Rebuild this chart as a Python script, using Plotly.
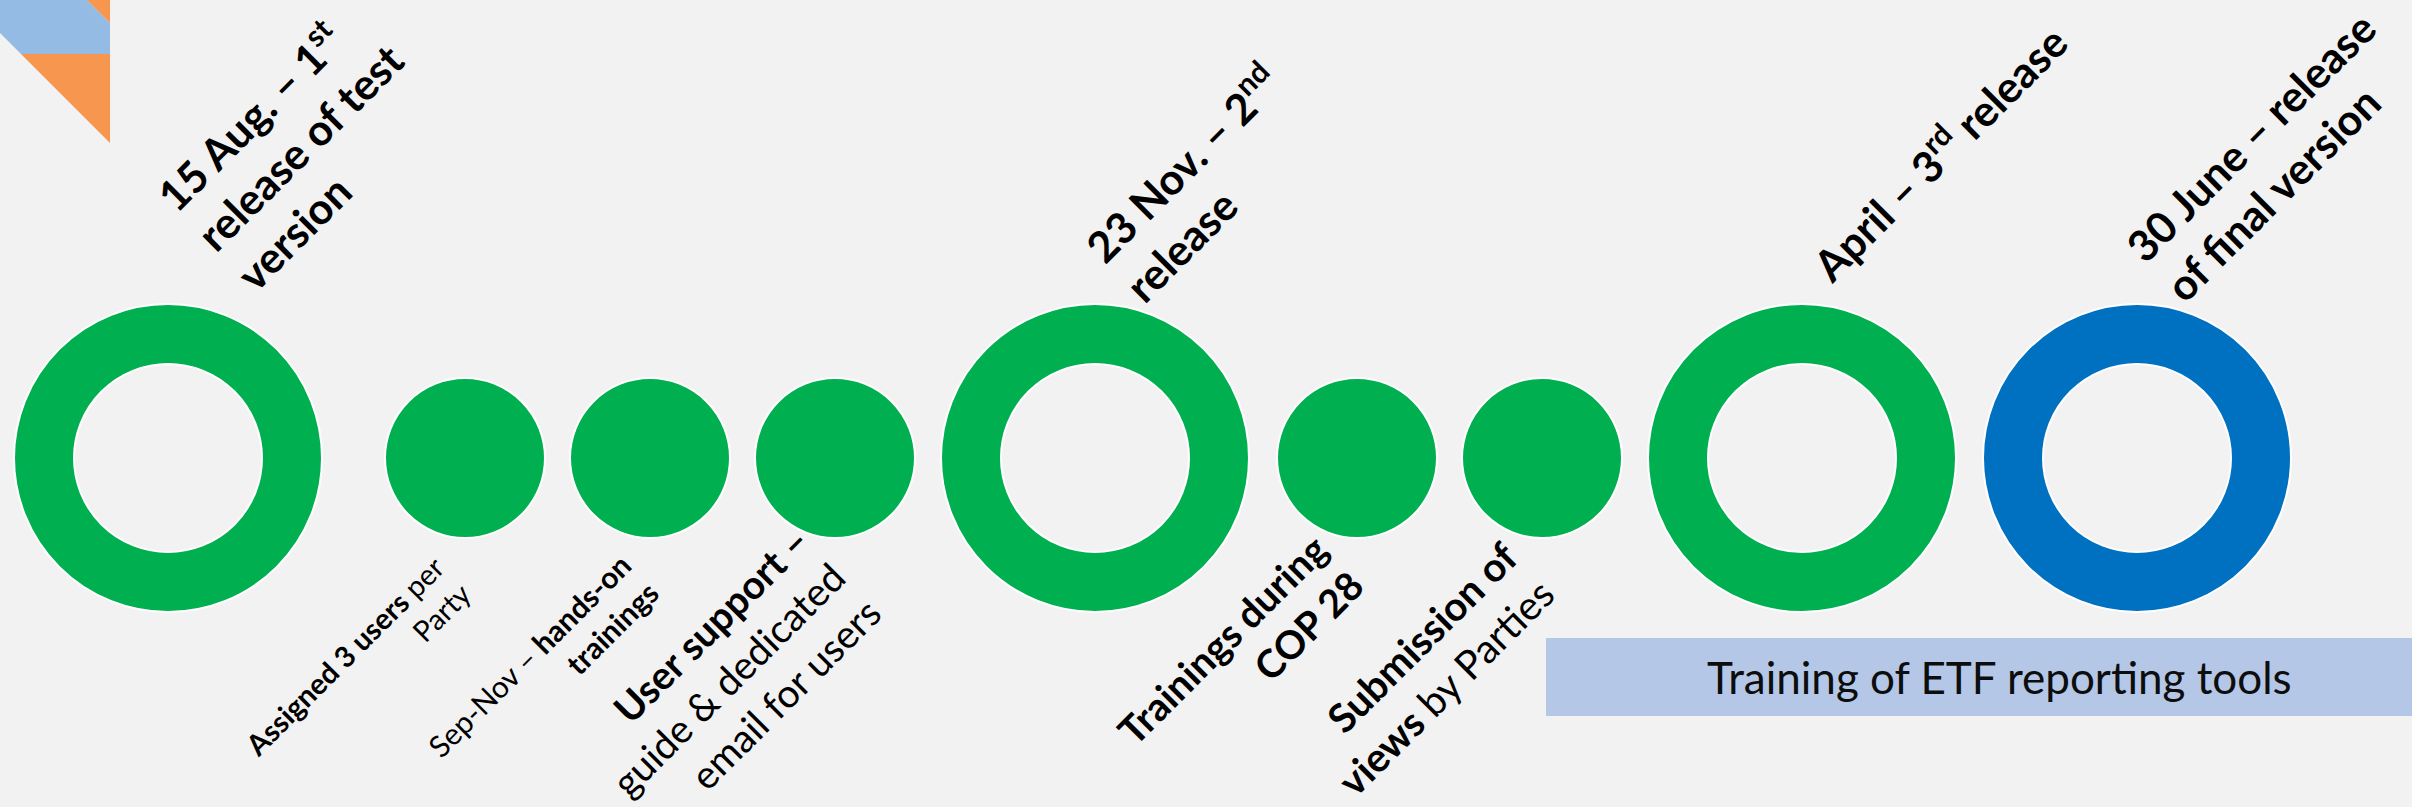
import plotly.graph_objects as go

# ---------------- data ----------------
milestones = ["15 Aug", "Assigned users", "Sep-Nov trainings", "User support",
              "23 Nov", "COP 28 trainings", "Submission of views", "April", "30 June"]
kinds = ["ring", "dot", "dot", "dot", "ring", "dot", "dot", "ring", "ring"]
colors_by_milestone = ["#00B050", "#00B050", "#00B050", "#00B050", "#00B050",
                       "#00B050", "#00B050", "#00B050", "#0070C0"]

top_labels = [
    "<b>15 Aug. – 1<sup>st</sup></b><br><b>release of test</b><br><b>version</b>",
    "<b>23 Nov. – 2<sup>nd</sup></b><br><b>release</b>",
    "<b>April – 3<sup>rd</sup> release</b>",
    "<b>30 June – release</b><br><b>of final version</b>",
]
bottom_labels = [
    "<b>Assigned 3 users</b> per<br>Party",
    "Sep-Nov – <b>hands-on</b><br><b>trainings</b>",
    "<b>User support –</b><br>guide &amp; dedicated<br>email for users",
    "<b>Trainings during</b><br><b>COP 28</b>",
    "<b>Submission of</b><br><b>views</b> by Parties",
]
band_label = "Training of ETF reporting tools"

# ---------------- layout geometry (pixels) ----------------
W, H = 2412, 807
CY = 458
cx = [168, 465, 650, 835, 1095, 1357, 1542, 1802, 2137]
R_RING, R_HOLE, R_DOT = 154, 94, 80
BG = "#F2F2F2"

top_pos = [(297, 145), (1200, 182), (1937, 151), (2270, 156)]
top_size = 43
bottom_pos = [(357, 669), (542, 669), (727, 679), (1240, 657), (1427, 669)]
bottom_size = [29, 30, 39, 39, 40]
band = dict(x0=1546, x1=2412, y0=638, y1=716)

shapes = []
# decorative corner triangles
shapes.append(dict(type="path", path="M0,0 L87,0 L110,23 L110,54 L21,54 L0,33 Z",
                   xref="x", yref="y", fillcolor="#93BBE4", line=dict(width=0)))
shapes.append(dict(type="path", path="M87,0 L110,0 L110,23 Z",
                   xref="x", yref="y", fillcolor="#F6964F", line=dict(width=0)))
shapes.append(dict(type="path", path="M21,54 L110,54 L110,143 Z",
                   xref="x", yref="y", fillcolor="#F6964F", line=dict(width=0)))

for x, k, c in zip(cx, kinds, colors_by_milestone):
    r = R_RING if k == "ring" else R_DOT
    shapes.append(dict(type="circle", xref="x", yref="y",
                       x0=x - r, x1=x + r, y0=CY - r, y1=CY + r,
                       fillcolor=c, line=dict(color="white", width=2)))
    if k == "ring":
        shapes.append(dict(type="circle", xref="x", yref="y",
                           x0=x - R_HOLE, x1=x + R_HOLE, y0=CY - R_HOLE, y1=CY + R_HOLE,
                           fillcolor=BG, line=dict(color="white", width=2)))

shapes.append(dict(type="rect", xref="x", yref="y", layer="below", **band,
                   fillcolor="#B4C7E7", line=dict(width=0)))

annotations = []
for txt, (x, y) in zip(top_labels, top_pos):
    annotations.append(dict(text=txt, x=x, y=y, xref="x", yref="y", showarrow=False,
                            textangle=-45, align="left", xanchor="center", yanchor="middle",
                            borderpad=0,
                            font=dict(family="Lato", size=top_size, color="#000000")))
for txt, (x, y), s in zip(bottom_labels, bottom_pos, bottom_size):
    annotations.append(dict(text=txt, x=x, y=y, xref="x", yref="y", showarrow=False,
                            textangle=-45, align="right", xanchor="center", yanchor="middle",
                            borderpad=0,
                            font=dict(family="Lato", size=s, color="#000000")))
annotations.append(dict(text=band_label, x=1999, y=677, xref="x", yref="y", showarrow=False,
                        xanchor="center", yanchor="middle", borderpad=0,
                        font=dict(family="Lato", size=44, color="#0D0D0D")))

fig = go.Figure()
fig.update_layout(
    width=W, height=H, margin=dict(l=0, r=0, t=0, b=0),
    paper_bgcolor=BG, plot_bgcolor=BG, showlegend=False,
    xaxis=dict(range=[0, W], visible=False, fixedrange=True),
    yaxis=dict(range=[H, 0], visible=False, fixedrange=True),
    shapes=shapes, annotations=annotations,
)
fig.write_html("out.html", config={"displayModeBar": False},
               post_script="document.body.style.margin='0';document.body.style.overflow='hidden';")
